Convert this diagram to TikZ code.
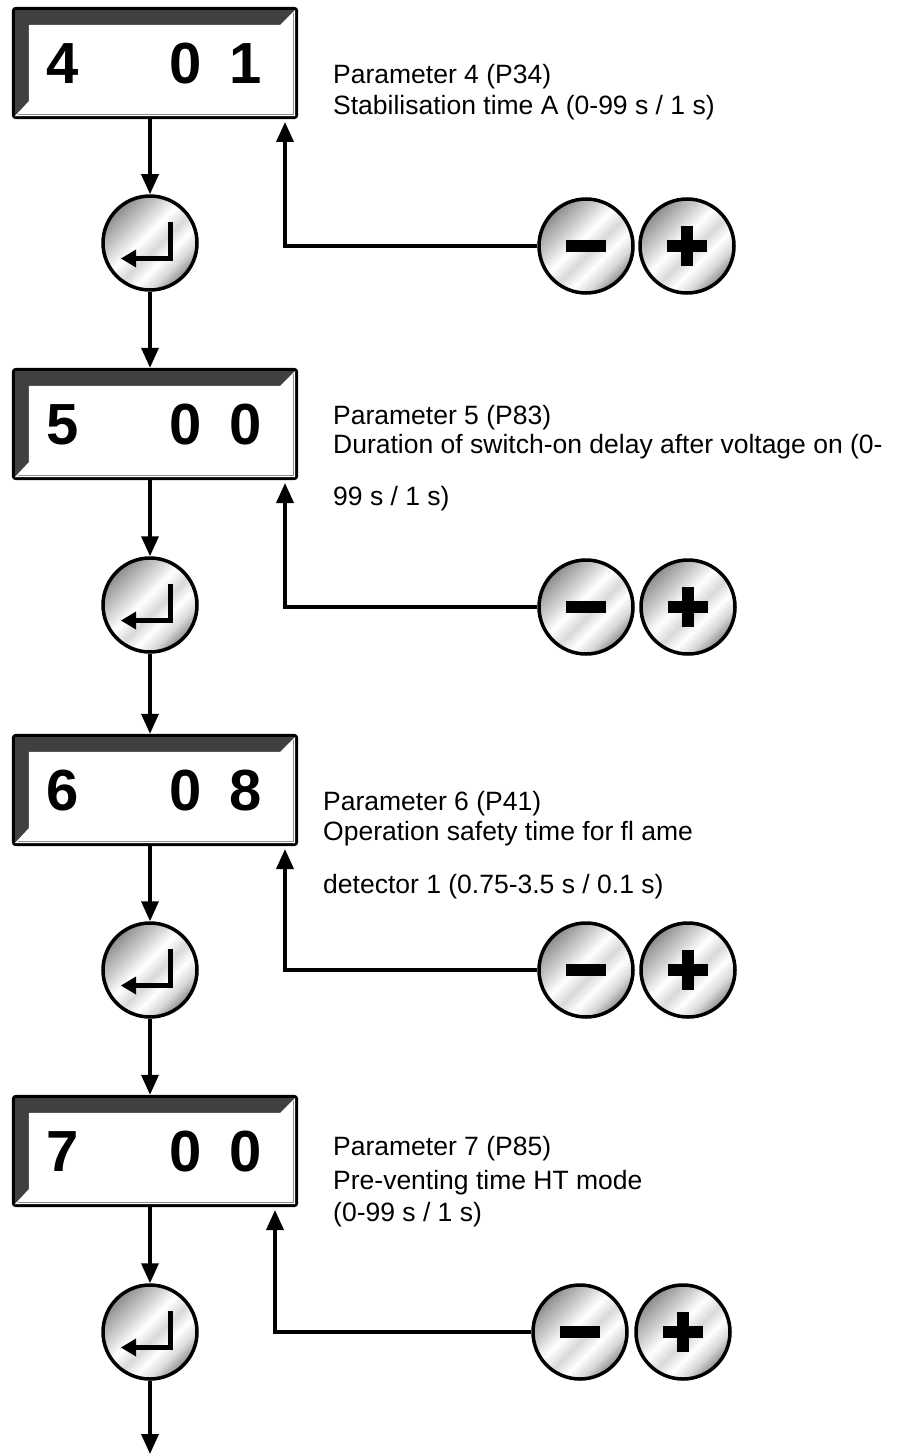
\documentclass[tikz,border=0pt]{standalone}
\usepackage{fontspec}
\setmainfont{Liberation Sans}
\usetikzlibrary{arrows.meta,calc}
\pgfdeclarehorizontalshading{metal}{100bp}{color(0bp)=(black!45); color(25bp)=(black!45); color(36bp)=(black!22); color(46bp)=(white); color(54bp)=(black!15); color(61bp)=(white); color(68bp)=(black!15); color(75bp)=(black!45); color(100bp)=(black!45)}
\tikzset{
  lbl/.style={anchor=base west, font=\fontsize{26.5}{32}\selectfont, inner sep=0pt},
  dig/.style={font=\fontsize{58}{58}\selectfont\bfseries, inner sep=0pt, anchor=center},
  btn/.style={circle, minimum size=94pt, draw=black, line width=3.5pt, shading=metal, shading angle=-45, inner sep=0pt},
  flow/.style={line width=3.5pt, -{Triangle[length=20pt,width=17pt]}},
  disp/.style={rectangle, minimum width=286pt, minimum height=112pt, inner sep=0pt},
}
% #1 name, #2 top y, #3 #4 #5 digits
\newcommand\dispbox[5]{%
  \node[disp] (#1) at (155,#2+56) {};
  \fill[black, rounded corners=4pt] (#1.north west) rectangle (#1.south east);
  \fill[black!75] ($(#1.north west)+(3,3)$) rectangle ($(#1.south east)+(-3,-3)$);
  \fill[white] ($(#1.south west)+(3,-3)$) -- ($(#1.south west)+(17,-18)$) -- ($(#1.north west)+(17,18)$)
     -- ($(#1.north east)+(-18,18)$) -- ($(#1.north east)+(-3,3)$) -- ($(#1.south east)+(-3,-3)$) -- cycle;
  \draw[black!45, line width=1.5pt] ($(#1.south west)+(6,-4.5)$) -- ($(#1.south east)+(-4.5,-4.5)$) -- ($(#1.north east)+(-4.5,6)$);
  \node[dig] (#1a) at (63,#2+57) {#3};
  \node[dig] (#1b) at (186,#2+57) {#4};
  \node[dig] (#1c) at (246,#2+57) {#5};
}
% #1 name, #2 center
\newcommand\enterbtn[2]{%
  \node[btn] (#1) at #2 {};
  \draw[line width=5pt, line join=miter] ($(#1)+(20,-21)$) -- ($(#1)+(20,15.5)$) -- ($(#1)+(-16,15.5)$);
  \fill ($(#1)+(-29,15.5)$) -- ($(#1)+(-14,6.5)$) -- ($(#1)+(-14,24.5)$) -- cycle;
}
\newcommand\minusbtn[2]{%
  \node[btn] (#1) at #2 {};
  \fill ($(#1)+(-20,-6)$) rectangle ($(#1)+(20,6)$);
}
\newcommand\plusbtn[2]{%
  \node[btn] (#1) at #2 {};
  \fill ($(#1)+(-20,-6)$) rectangle ($(#1)+(20,6)$);
  \fill ($(#1)+(-6,-20)$) rectangle ($(#1)+(6,20)$);
}
\begin{document}
\begin{tikzpicture}[x=1pt,y=-1pt]
\useasboundingbox (0,0) rectangle (897,1455);
% group 1
\dispbox{d1}{7}{4}{0}{1}
\enterbtn{e1}{(150,243)}
\minusbtn{m1}{(586,246)}
\plusbtn{p1}{(687,246)}
\node[lbl] (t1a) at (333,84) {Parameter 4 (P34)};
\node[lbl] (t1b) at (333,115) {Stabilisation time A (0-99 s / 1 s)};
\coordinate (f1) at (285,122);
% group 2
\dispbox{d2}{368}{5}{0}{0}
\enterbtn{e2}{(150,605)}
\minusbtn{m2}{(586,607)}
\plusbtn{p2}{(688,607)}
\node[lbl] (t2a) at (333,424) {Parameter 5 (P83)};
\node[lbl] (t2b) at (333,453) {Duration of switch-on delay after voltage on (0-};
\node[lbl] (t2c) at (333,505) {99 s / 1 s)};
\coordinate (f2) at (285,483);
% group 3
\dispbox{d3}{734}{6}{0}{8}
\enterbtn{e3}{(150,970)}
\minusbtn{m3}{(586,970)}
\plusbtn{p3}{(688,970)}
\node[lbl] (t3a) at (323,810) {Parameter 6 (P41)};
\node[lbl] (t3b) at (323,840) {Operation safety time for fl ame};
\node[lbl] (t3c) at (323,893) {detector 1 (0.75-3.5 s / 0.1 s)};
\coordinate (f3) at (285,849);
% group 4
\dispbox{d4}{1095}{7}{0}{0}
\enterbtn{e4}{(150,1332)}
\minusbtn{m4}{(580,1332)}
\plusbtn{p4}{(683,1332)}
\node[lbl] (t4a) at (333,1155) {Parameter 7 (P85)};
\node[lbl] (t4b) at (333,1189) {Pre-venting time HT mode};
\node[lbl] (t4c) at (333,1221) {(0-99 s / 1 s)};
\coordinate (f4) at (275,1210);
\coordinate (fin) at (150,1454);
% flow arrows
\draw[flow] (e1.north |- d1.south) -- (e1.north);
\draw[flow] (e1.south) -- (e1.south |- d2.north);
\draw[flow] (e2.north |- d2.south) -- (e2.north);
\draw[flow] (e2.south) -- (e2.south |- d3.north);
\draw[flow] (e3.north |- d3.south) -- (e3.north);
\draw[flow] (e3.south) -- (e3.south |- d4.north);
\draw[flow] (e4.north |- d4.south) -- (e4.north);
\draw[flow] (e4.south) -- (fin);
% feedback arrows
\draw[flow] (m1.west) -| (f1);
\draw[flow] (m2.west) -| (f2);
\draw[flow] (m3.west) -| (f3);
\draw[flow] (m4.west) -| (f4);
\end{tikzpicture}
\end{document}
